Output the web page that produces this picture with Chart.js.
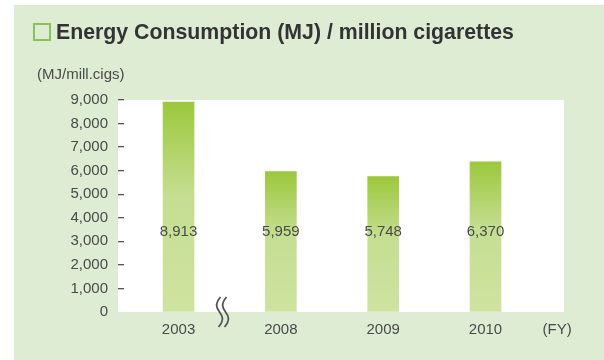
<!DOCTYPE html>
<html>
<head>
<meta charset="utf-8">
<script src="https://cdn.jsdelivr.net/npm/chart.js@4/dist/chart.umd.min.js"></script>
<style>
  html, body { margin: 0; padding: 0; background: #fff; }
  #wrap { width: 604px; height: 360px; }
</style>
</head>
<body>
<div id="wrap"><canvas id="energyChart" width="604" height="360"></canvas></div>
<script>
// Данные графика
const years = ['2003', '2008', '2009', '2010'];
const energy = [8913, 5959, 5748, 6370];
const yTickValues = [0, 1000, 2000, 3000, 4000, 5000, 6000, 7000, 8000, 9000];
const titleText = 'Energy Consumption (MJ) / million cigarettes';
const unitText = '(MJ/mill.cigs)';
const fyText = '(FY)';

const FONT = '"Liberation Sans", Arial, sans-serif';
const TEXT_COLOR = '#4a4a4a';

// Фон панели, заголовок, подписи значений и знак разрыва оси
const decorPlugin = {
    id: 'decor',
    beforeDraw(chart) {
        const { ctx, chartArea } = chart;
        ctx.save();
        ctx.fillStyle = '#ffffff';
        ctx.fillRect(0, 0, chart.width, chart.height);
        ctx.fillStyle = '#ddecd3';
        ctx.fillRect(14, 5, chart.width - 14, chart.height - 5);
        ctx.fillStyle = '#ffffff';
        ctx.fillRect(chartArea.left - 6, chartArea.top, chartArea.right - chartArea.left + 6, chartArea.bottom - chartArea.top);
        ctx.restore();
    },
    afterDraw(chart) {
        const { ctx } = chart;
        const x = chart.scales.x;
        const y = chart.scales.y;
        ctx.save();

        // квадратик перед заголовком
        ctx.strokeStyle = '#86c45a';
        ctx.lineWidth = 2;
        ctx.strokeRect(34, 24, 16, 16);

        // заголовок
        ctx.fillStyle = '#333333';
        ctx.font = 'bold 21.3px ' + FONT;
        ctx.textBaseline = 'middle';
        ctx.textAlign = 'left';
        ctx.fillText(titleText, 56, 33);

        // единицы измерения
        ctx.fillStyle = TEXT_COLOR;
        ctx.font = '15px ' + FONT;
        ctx.fillText(unitText, 37, 75);

        // подписи значений внутри столбцов
        ctx.textAlign = 'center';
        const labelY = y.getPixelForValue(3400);
        energy.forEach((v, i) => {
            ctx.fillText(v.toLocaleString('en-US'), x.getPixelForValue(i), labelY);
        });

        // знак разрыва между 2003 и 2008
        const bx = x.getPixelForValue(0.43);
        const by = y.getPixelForValue(0);
        ctx.strokeStyle = '#555555';
        ctx.lineWidth = 1.8;
        [-3, 3].forEach(dx => {
            const cx = bx + dx;
            ctx.beginPath();
            ctx.moveTo(cx + 1, by - 15);
            ctx.bezierCurveTo(cx - 5, by - 8, cx - 3, by - 4, cx, by);
            ctx.bezierCurveTo(cx + 3, by + 4, cx + 5, by + 8, cx - 1, by + 15);
            ctx.stroke();
        });
        ctx.restore();
    }
};

// Градиент столбца: яркий сверху, светлый снизу
function barGradient(context) {
    const chart = context.chart;
    if (!chart.chartArea) return '#c6df93';
    const y = chart.scales.y;
    const top = y.getPixelForValue(energy[context.dataIndex]);
    const bottom = y.getPixelForValue(0);
    const g = chart.ctx.createLinearGradient(0, top, 0, bottom);
    g.addColorStop(0, '#9cc83c');
    g.addColorStop(0.45, '#c5de92');
    g.addColorStop(1, '#cfe3a0');
    return g;
}

const xTickValues = [0, 1, 2, 3, 3.7];
const xLabels = years.concat([fyText]);

new Chart(document.getElementById('energyChart'), {
    type: 'bar',
    data: {
        datasets: [{
            data: energy.map((v, i) => ({ x: i, y: v })),
            backgroundColor: barGradient,
            barThickness: 31,
            borderWidth: 0
        }]
    },
    options: {
        responsive: false,
        animation: false,
        layout: { padding: { left: 0, right: 40, top: 100, bottom: 0 } },
        plugins: {
            legend: { display: false },
            tooltip: { enabled: false }
        },
        scales: {
            x: {
                type: 'linear',
                offset: false,
                min: -0.533,
                max: 3.767,
                afterBuildTicks: scale => { scale.ticks = xTickValues.map(v => ({ value: v })); },
                afterFit: scale => { scale.height = 48; },
                ticks: {
                    autoSkip: false,
                    maxRotation: 0,
                    padding: 9,
                    color: TEXT_COLOR,
                    font: { family: FONT, size: 15 },
                    callback: (value, index) => xLabels[index]
                },
                grid: { display: false, drawTicks: false, offset: false },
                border: { display: false }
            },
            y: {
                min: 0,
                max: 9000,
                afterBuildTicks: scale => { scale.ticks = yTickValues.map(v => ({ value: v })); },
                afterFit: scale => { scale.width = 124; },
                ticks: {
                    padding: 10,
                    color: TEXT_COLOR,
                    font: { family: FONT, size: 15 },
                    callback: value => value.toLocaleString('en-US')
                },
                grid: {
                    drawOnChartArea: false,
                    drawTicks: true,
                    tickLength: 6,
                    lineWidth: 1.3,
                    color: ctx => (ctx.tick && ctx.tick.value === 0) ? 'rgba(0,0,0,0)' : '#555555'
                },
                border: { display: false }
            }
        }
    },
    plugins: [decorPlugin]
});
</script>
</body>
</html>
